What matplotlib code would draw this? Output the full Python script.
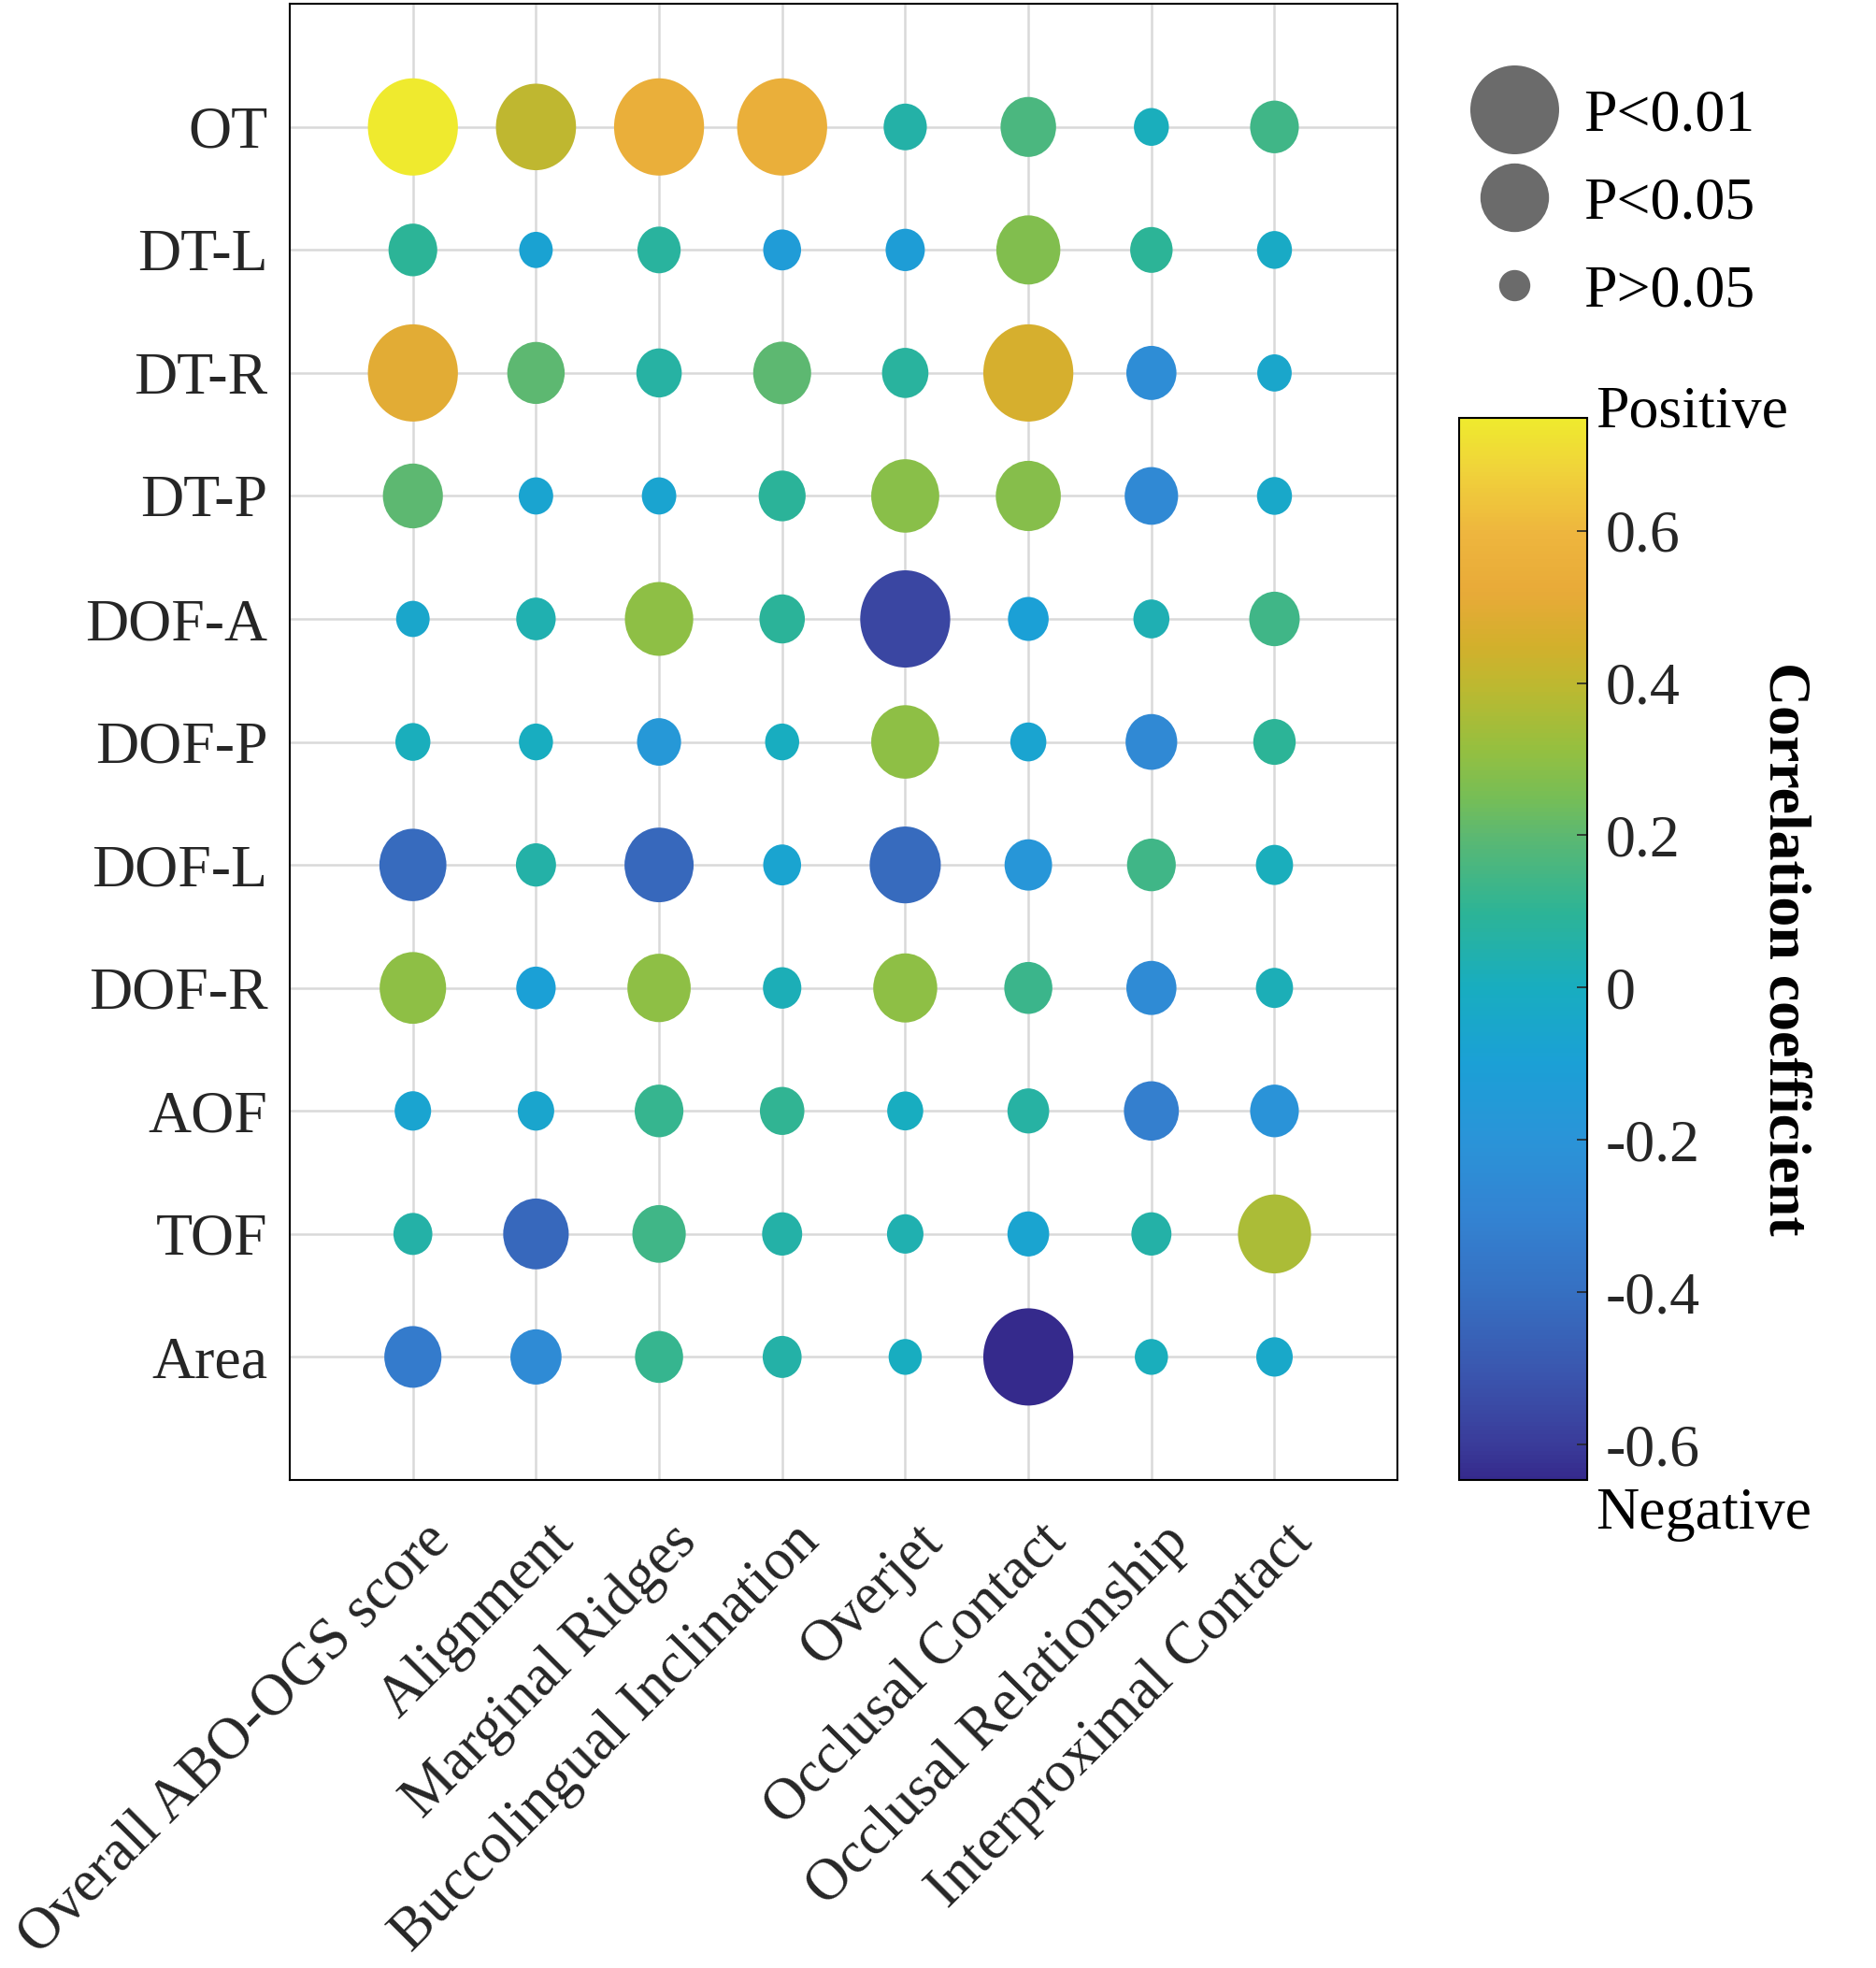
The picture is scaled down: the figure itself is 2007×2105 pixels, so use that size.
import numpy as np
import matplotlib
matplotlib.use("Agg")
import matplotlib.pyplot as plt
from matplotlib.colors import LinearSegmentedColormap
from matplotlib.lines import Line2D
from matplotlib.path import Path
from matplotlib.transforms import Affine2D, ScaledTranslation

plt.rcParams["font.family"] = ["Liberation Serif", "DejaVu Serif"]
plt.rcParams["axes.unicode_minus"] = False

rows = ["OT", "DT-L", "DT-R", "DT-P", "DOF-A", "DOF-P", "DOF-L", "DOF-R", "AOF", "TOF", "Area"]
cols = ["Overall ABO-OGS score", "Alignment", "Marginal Ridges", "Buccolingual Inclination",
        "Overjet", "Occlusal Contact", "Occlusal Relationship", "Interproximal Contact"]

# correlation coefficients, one list per row (columns in the order of `cols`)
r_OT   = [0.748, 0.40, 0.55, 0.55, 0.06, 0.16, 0.01, 0.14]
r_DT_L = [0.10, -0.08, 0.08, -0.13, -0.12, 0.27, 0.10, -0.02]
r_DT_R = [0.50, 0.20, 0.07, 0.20, 0.08, 0.46, -0.24, -0.05]
r_DT_P = [0.20, -0.07, -0.07, 0.09, 0.29, 0.28, -0.26, -0.04]
r_DOFA = [-0.05, 0.04, 0.30, 0.09, -0.56, -0.10, 0.03, 0.14]
r_DOFP = [0.01, 0.00, -0.17, 0.00, 0.30, -0.07, -0.26, 0.10]
r_DOFL = [-0.42, 0.06, -0.43, -0.07, -0.42, -0.18, 0.14, 0.01]
r_DOFR = [0.30, -0.10, 0.30, 0.02, 0.30, 0.13, -0.25, 0.02]
r_AOF  = [-0.07, -0.06, 0.12, 0.11, 0.00, 0.07, -0.32, -0.20]
r_TOF  = [0.06, -0.43, 0.14, 0.06, 0.04, -0.07, 0.06, 0.36]
r_Area = [-0.34, -0.25, 0.12, 0.06, 0.00, -0.646, 0.01, -0.04]

# p values (bubble size)
p_OT   = [0.001, 0.012, 0.001, 0.001, 0.29, 0.10, 0.59, 0.18]
p_DT_L = [0.18, 0.67, 0.29, 0.46, 0.41, 0.048, 0.31, 0.59]
p_DT_R = [0.001, 0.085, 0.24, 0.081, 0.22, 0.001, 0.16, 0.62]
p_DT_P = [0.068, 0.62, 0.62, 0.21, 0.034, 0.044, 0.12, 0.59]
p_DOFA = [0.67, 0.40, 0.033, 0.24, 0.001, 0.36, 0.54, 0.155]
p_DOFP = [0.59, 0.64, 0.27, 0.64, 0.034, 0.54, 0.14, 0.31]
p_DOFL = [0.037, 0.38, 0.031, 0.46, 0.026, 0.20, 0.18, 0.49]
p_DOFR = [0.039, 0.40, 0.051, 0.44, 0.048, 0.19, 0.16, 0.49]
p_AOF  = [0.52, 0.52, 0.18, 0.26, 0.54, 0.33, 0.105, 0.18]
p_TOF  = [0.42, 0.042, 0.12, 0.38, 0.52, 0.33, 0.38, 0.022]
p_Area = [0.087, 0.146, 0.19, 0.42, 0.69, 0.001, 0.69, 0.52]

corr = np.array([r_OT, r_DT_L, r_DT_R, r_DT_P, r_DOFA, r_DOFP, r_DOFL, r_DOFR, r_AOF, r_TOF, r_Area])
pvals = np.array([p_OT, p_DT_L, p_DT_R, p_DT_P, p_DOFA, p_DOFP, p_DOFL, p_DOFR, p_AOF, p_TOF, p_Area])

vmin, vmax = corr.min(), corr.max()

# parula-like map, as it prints in the figure (value -> colour)
cmap_vals = [-0.646, -0.60, -0.50, -0.40, -0.30, -0.20, -0.10, 0.00, 0.10,
             0.20, 0.25, 0.32, 0.40, 0.45, 0.52, 0.60, 0.68, 0.748]
cmap_cols = ["#352a8c", "#3a3c9a", "#3a58b0", "#3670c2", "#3383d2", "#2a94d8", "#1ba0d6",
             "#18adc0", "#2db496", "#5cb872", "#76be56", "#98bf3e", "#beb830", "#d2b02c",
             "#e8aa38", "#eeb63e", "#f0d23a", "#efea2e"]
pos = (np.array(cmap_vals) - cmap_vals[0]) / (cmap_vals[-1] - cmap_vals[0])
parula = LinearSegmentedColormap.from_list("parula_fig", list(zip(pos, cmap_cols)))

DPI = 100


def bubble_radius(p):
    """bubble radius in pixels, grows with -log10(p)"""
    return np.interp(-np.log10(p), [0, 1.301, 2, 3], [16.7, 36.7, 47.5, 52])


fig = plt.figure(figsize=(20.08, 21.05), dpi=DPI)
ax = fig.add_axes([0.1544, 0.2480, 0.5902, 0.7500])
cax = fig.add_axes([0.7774, 0.2480, 0.0682, 0.5397])

xx, yy = np.meshgrid(np.arange(1, len(cols) + 1), np.arange(1, len(rows) + 1))
# bubbles in the figure are a touch taller than wide
ell = Path.unit_circle().transformed(Affine2D().scale(1.0, 1.08))
sizes = (2 * bubble_radius(pvals) * 72 / DPI) ** 2
sc = ax.scatter(xx.ravel(), yy.ravel(), s=sizes.ravel(), c=corr.ravel(), cmap=parula,
                vmin=vmin, vmax=vmax, marker=ell, linewidths=0, zorder=3)

ax.set_xlim(0, len(cols) + 1)
ax.set_ylim(len(rows) + 1, 0)
ax.set_xticks(np.arange(1, len(cols) + 1))
ax.set_yticks(np.arange(1, len(rows) + 1))
ax.set_xticklabels(cols, rotation=45, ha="right", va="center", rotation_mode="anchor")
ax.set_yticklabels(rows)
ax.tick_params(axis="both", length=0, colors="#262626")
ax.tick_params(axis="y", pad=17, labelsize=46)
ax.tick_params(axis="x", pad=41, labelsize=45)
for lab in ax.get_xticklabels():
    lab.set_transform(lab.get_transform() + ScaledTranslation(0.31, 0, fig.dpi_scale_trans))
ax.grid(True, color="#d9d9d9", lw=1.8, zorder=0)
ax.set_axisbelow(True)
for sp in ax.spines.values():
    sp.set_linewidth(1.5)
    sp.set_color("black")

# colorbar
cbar = fig.colorbar(sc, cax=cax)
ticks = np.round(np.arange(-0.6, 0.61, 0.2), 1) + 0.0
cbar.set_ticks(ticks)
cbar.set_ticklabels([f"{t:g}" for t in ticks])
cax.tick_params(direction="in", length=8, width=1.2, labelsize=46, pad=14, colors="#262626")
cbar.outline.set_linewidth(1.5)
cax.text(1.066, 1.004, "Positive", transform=cax.transAxes, fontsize=46, ha="left", va="center")
cax.text(1.066, -0.0326, "Negative", transform=cax.transAxes, fontsize=46, ha="left", va="center")
cax.text(2.54, 0.5, "Correlation coefficient", transform=cax.transAxes, fontsize=46,
         fontweight="bold", rotation=-90, ha="center", va="center")

# size legend
leg_p = [0.01, 0.05, 1.0]
leg_labels = ["P<0.01", "P<0.05", "P>0.05"]
handles = [Line2D([], [], ls="none", marker="o", markersize=2 * bubble_radius(p) * 72 / DPI,
                  markerfacecolor="#6b6b6b", markeredgewidth=0) for p in leg_p]
fig.legend(handles, leg_labels, loc="center left", bbox_to_anchor=(1588 / 2008, 1 - 218 / 2105),
           frameon=False, fontsize=46, handlelength=1.0, handletextpad=0.66,
           labelspacing=0.55, borderpad=0, borderaxespad=0)

fig.savefig("out.png", dpi=DPI)
